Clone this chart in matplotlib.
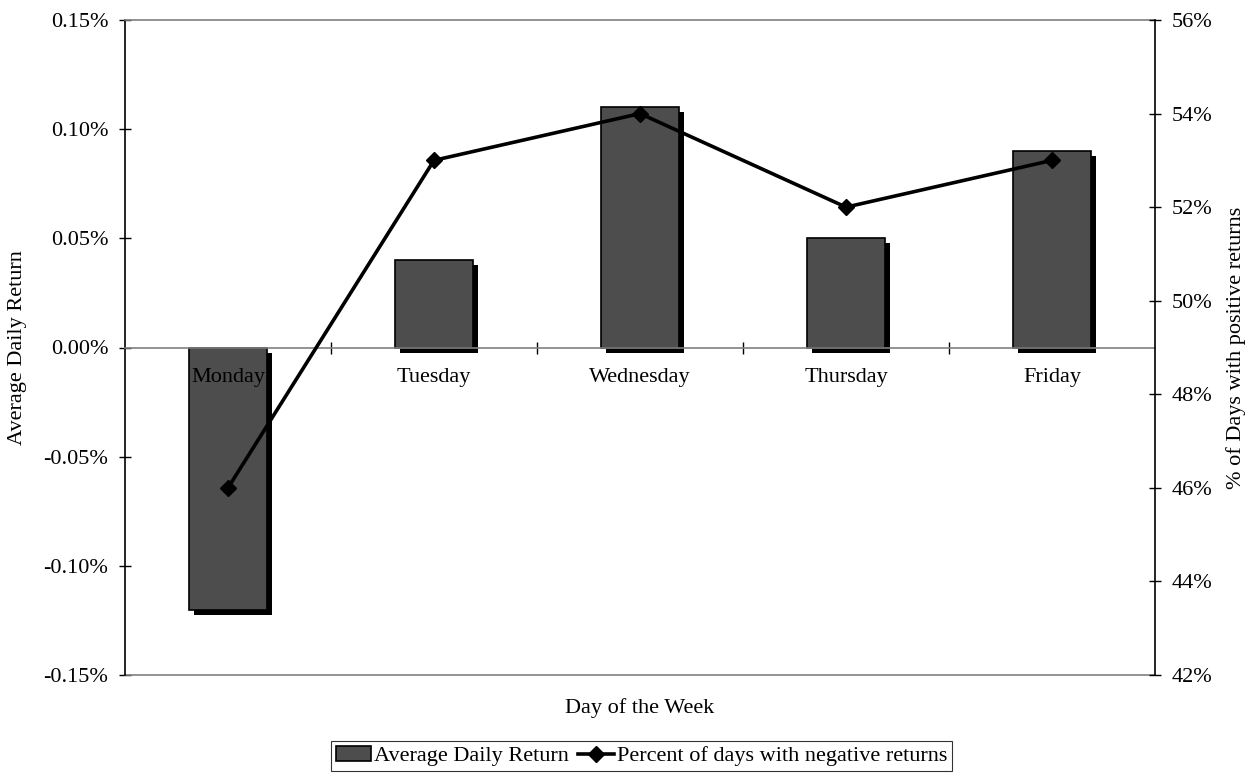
import matplotlib
matplotlib.use("Agg")
import matplotlib.pyplot as plt
import matplotlib.patheffects as pe
from matplotlib.ticker import FuncFormatter, FixedLocator
import numpy as np

## Data ------------------------------------------------------------------------
days = ["Monday", "Tuesday", "Wednesday", "Thursday", "Friday"]
avg_return = [-0.12, 0.04, 0.11, 0.05, 0.09]   # %
pct_days = [46, 53, 54, 52, 53]                # %

plt.rcParams['font.family'] = ['Liberation Serif', 'DejaVu Serif']
plt.rcParams['font.size'] = 16

fig = plt.figure(figsize=(12.48, 7.73), dpi=100)
ax = fig.add_axes([125/1248, 1-675/773, (1155-125)/1248, (675-20)/773])
ax2 = ax.twinx()

x = np.arange(len(days))

# Bars with a hard black drop shadow
bars = ax.bar(x, avg_return, width=0.38, color='#4d4d4d', edgecolor='black',
              linewidth=1.2, zorder=2)
for b in bars:
    b.set_path_effects([pe.SimplePatchShadow(offset=(3.6, -3.6), shadow_rgbFace='black', alpha=1.0),
                        pe.Normal()])

ax.set_xlim(-0.5, len(days) - 0.5)
ax.set_ylim(-0.15, 0.15)
ax.set_yticks([-0.15, -0.10, -0.05, 0.0, 0.05, 0.10, 0.15])
ax.yaxis.set_major_formatter(FuncFormatter(lambda v, p: '{:.2f}%'.format(v)))
ax.tick_params(axis='y', direction='inout', length=8, width=1, pad=8)
ax.set_ylabel('Average Daily Return', labelpad=12)

# Category axis on the zero line
ax.spines['bottom'].set_position(('data', 0))
ax.spines['bottom'].set_color('#808080')
ax.spines['bottom'].set_linewidth(1.2)
ax.spines['top'].set_color('#808080')
ax.spines['top'].set_linewidth(1.2)
ax.spines['left'].set_linewidth(1.2)
ax.spines['right'].set_visible(False)
ax.xaxis.set_major_locator(FixedLocator(np.arange(0.5, len(days) - 0.5, 1.0)))
ax.xaxis.set_major_formatter(FuncFormatter(lambda v, p: ''))
ax.tick_params(axis='x', which='major', direction='inout', length=8, width=1, color='black')

# category labels just under the zero line, on top of the bars
for xi, d in zip(x, days):
    ax.annotate(d, xy=(xi, 0), xytext=(0, -15), textcoords='offset points',
                ha='center', va='top', zorder=6)

# Bottom border of the plot area (gray)
ax.plot([0, 1], [0, 0], transform=ax.transAxes, color='#808080', lw=1.2, clip_on=False)

ax.text(0.5, -0.036, 'Day of the Week', transform=ax.transAxes, ha='center', va='top')

# Line on the secondary axis
line, = ax2.plot(x, pct_days, color='black', lw=2.6, marker='D', markersize=8, zorder=3)
ax2.set_ylim(42, 56)
ax2.set_yticks(np.arange(42, 57, 2))
ax2.yaxis.set_major_formatter(FuncFormatter(lambda v, p: '{:.0f}%'.format(v)))
ax2.tick_params(axis='y', direction='inout', length=8, width=1, pad=8)
ax2.set_ylabel('% of Days with positive returns', labelpad=10)
for s in ['top', 'bottom', 'left']:
    ax2.spines[s].set_visible(False)
ax2.spines['right'].set_linewidth(1.2)

ax.set_zorder(2)
ax.patch.set_visible(False)
ax2.set_zorder(3)

leg = fig.legend([bars, line], ['Average Daily Return', 'Percent of days with negative returns'],
                 loc='lower center', bbox_to_anchor=(0.514, 0.0), ncol=2, frameon=True,
                 fancybox=False, edgecolor='black', handlelength=1.6, handletextpad=0.15,
                 columnspacing=0.4, borderpad=0.2, borderaxespad=0.1)
leg.get_frame().set_linewidth(0.8)
leg.legend_handles[0].set_path_effects([])

fig.savefig('out.png', dpi=100)
